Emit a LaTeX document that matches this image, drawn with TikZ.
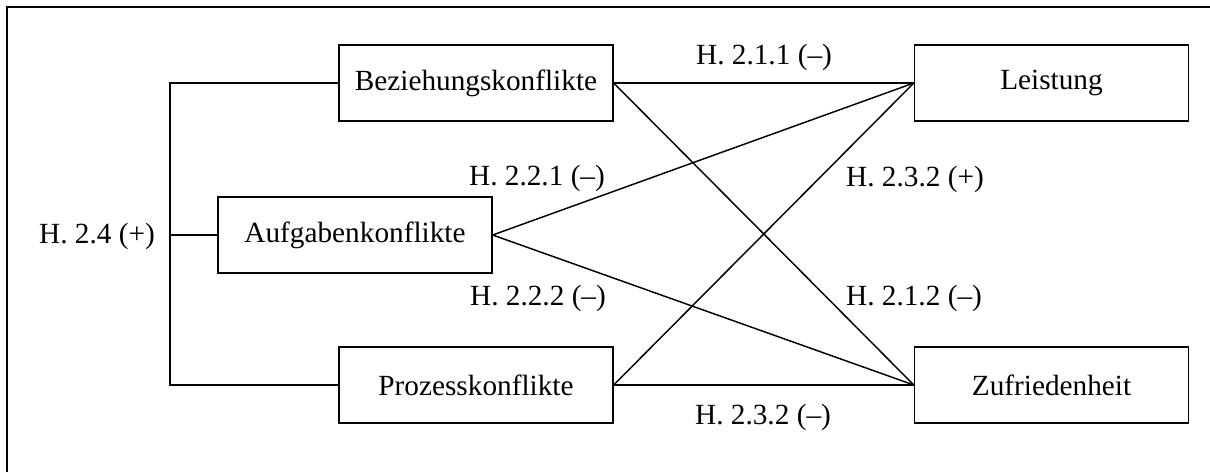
\documentclass[tikz,border=0pt]{standalone}
\usepackage{fontspec}
\setmainfont{Liberation Serif}
\usepackage{tikz}

\begin{document}
\begin{tikzpicture}[x=0.41pt,y=-0.41pt,
  box/.style={draw,line width=0.6pt,minimum width=112.3pt,minimum height=31pt,inner sep=0pt},
  hyp/.style={inner sep=0pt},
  link/.style={line width=0.6pt},
  font=\fontsize{12}{14}\selectfont]
\useasboundingbox (0,0) rectangle (1210,472);
\draw [line width=0.9pt] (7,472) -- (7,7) -- (1210,7);

\node [box] (bez) at (476,83) {Beziehungskonflikte};
\node [box] (aufg) at (355,235) {Aufgabenkonflikte};
\node [box] (proz) at (476,385) {Prozesskonflikte};
\node [box] (leist) at (1051.5,83) {Leistung};
\node [box] (zuf) at (1051.5,385) {Zufriedenheit};

\coordinate (brk) at (170,235);
\draw [link] (bez.west) -| (brk) |- (proz.west);
\draw [link] (aufg.west) -- (brk);

\draw [link] (bez.east) -- (leist.west);
\draw [link] (bez.east) -- (zuf.west);
\draw [link] (aufg.east) -- (leist.west);
\draw [link] (aufg.east) -- (zuf.west);
\draw [link] (proz.east) -- (leist.west);
\draw [link] (proz.east) -- (zuf.west);

\node [hyp] (h24) at (97,236) {H. 2.4 (+)};
\node [hyp] (h211) at (764,57) {H. 2.1.1 (–)};
\node [hyp] (h221) at (537,178) {H. 2.2.1 (–)};
\node [hyp] (h222) at (538,298) {H. 2.2.2 (–)};
\node [hyp] (h232p) at (915,179) {H. 2.3.2 (+)};
\node [hyp] (h212) at (914,298) {H. 2.1.2 (–)};
\node [hyp] (h232m) at (763,417) {H. 2.3.2 (–)};
\end{tikzpicture}
\end{document}
